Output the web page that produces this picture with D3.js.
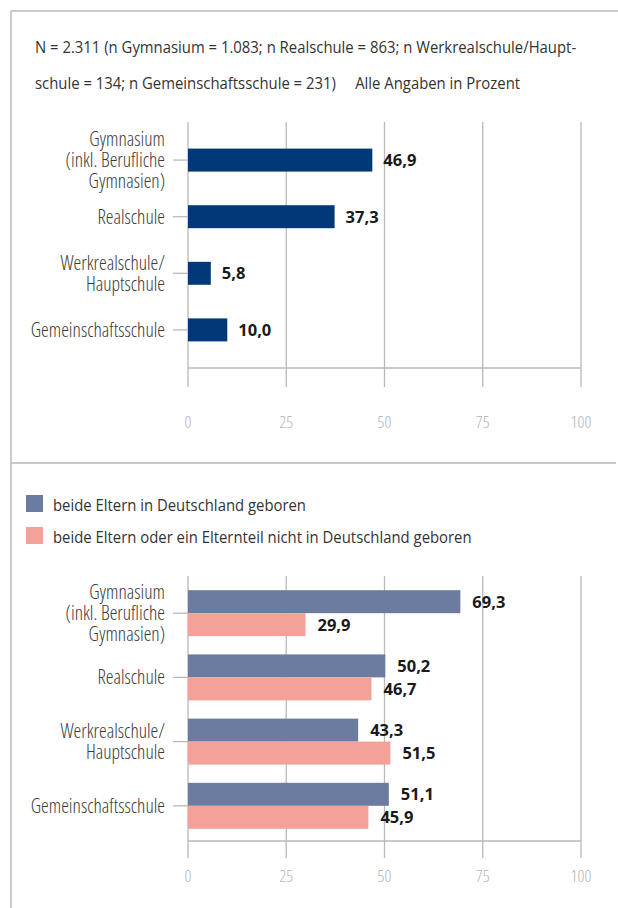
<!DOCTYPE html>
<html>
<head>
<meta charset="utf-8">
<script src="https://cdn.jsdelivr.net/npm/d3@7"></script>
<style>
  body { margin: 0; background: #fff; }
  svg text { font-family: "Open Sans", "Liberation Sans Narrow", "DejaVu Sans Condensed", sans-serif; }
  .cond { font-stretch: condensed; }
</style>
</head>
<body>
<svg id="chart" width="618" height="908"></svg>
<script>
// data
const schools = [
  ["Gymnasium", "(inkl. Berufliche", "Gymnasien)"],
  ["Realschule"],
  ["Werkrealschule/", "Hauptschule"],
  ["Gemeinschaftsschule"]
];
const schoolKeys = ["gym", "real", "werk", "gem"];
const shareAll = [46.9, 37.3, 5.8, 10.0];
const shareNative = [69.3, 50.2, 43.3, 51.1];
const shareMigrant = [29.9, 46.7, 51.5, 45.9];
const seriesNames = [
  "beide Eltern in Deutschland geboren",
  "beide Eltern oder ein Elternteil nicht in Deutschland geboren"
];
const xTicks = [0, 25, 50, 75, 100];
const noteLines = [
  "N = 2.311 (n Gymnasium = 1.083; n Realschule = 863; n Werkrealschule/Haupt-",
  "schule = 134; n Gemeinschaftsschule = 231)     Alle Angaben in Prozent"
];

const navy = "#013877", slate = "#6c7ba0", salmon = "#f4a199";
const gridColor = "#b9b9b9";

const de = d3.formatLocale({ decimal: ",", thousands: ".", grouping: [3], currency: ["", "€"] });
const fmt = de.format(".1f");

const svg = d3.select("#chart");

// frame
svg.append("line").attr("x1", 11).attr("y1", 11).attr("x2", 618).attr("y2", 11)
  .attr("stroke", gridColor).attr("stroke-width", 1.5);
svg.append("line").attr("x1", 11).attr("y1", 11).attr("x2", 11).attr("y2", 908)
  .attr("stroke", gridColor).attr("stroke-width", 1.5);
svg.append("line").attr("x1", 11).attr("y1", 463).attr("x2", 616).attr("y2", 463)
  .attr("stroke", gridColor).attr("stroke-width", 1.5);

// note text (semi-condensed look via horizontal squeeze)
svg.selectAll(".note").data(noteLines).join("text")
  .attr("class", "note")
  .attr("transform", (d, i) => `translate(35,${53 + i * 36}) scale(0.875,1)`)
  .attr("font-size", 17)
  .attr("fill", "#333")
  .style("white-space", "pre")
  .text(d => d);

const x = d3.scaleLinear().domain([0, 100]).range([188, 581]);

function drawFrame(top, bottom, yScale, tickLen, labelOff) {
  const g = svg.append("g");
  // grid
  g.selectAll(".grid").data(xTicks).join("line")
    .attr("x1", d => x(d)).attr("x2", d => x(d))
    .attr("y1", top).attr("y2", bottom + tickLen)
    .attr("stroke", gridColor).attr("stroke-width", 1.3);
  g.append("line")
    .attr("x1", x(0)).attr("x2", x(100))
    .attr("y1", bottom).attr("y2", bottom)
    .attr("stroke", gridColor).attr("stroke-width", 1.3);
  g.selectAll(".tl").data(xTicks).join("text")
    .attr("class", "cond")
    .attr("x", d => x(d))
    .attr("y", bottom + labelOff)
    .attr("text-anchor", "middle")
    .attr("font-size", 17)
    .attr("font-weight", 300)
    .attr("fill", "#b3b3b3")
    .text(d => d);
  // category ticks and labels
  schoolKeys.forEach((k, i) => {
    const cy = yScale(k) + yScale.bandwidth() / 2;
    g.append("line")
      .attr("x1", 173).attr("x2", x(0))
      .attr("y1", cy).attr("y2", cy)
      .attr("stroke", gridColor).attr("stroke-width", 1.3);
    const lines = schools[i];
    const t = g.append("text")
      .attr("class", "cond")
      .attr("text-anchor", "end")
      .attr("font-size", 19.5)
      .attr("font-weight", 350)
      .attr("fill", "#3a3a3a");
    lines.forEach((ln, j) => {
      t.append("tspan")
        .attr("x", 165)
        .attr("y", cy + 7 + (j - (lines.length - 1) / 2) * 21)
        .text(ln);
    });
  });
  return g;
}

// chart 1
const y1 = d3.scaleBand().domain(schoolKeys).range([122, 368])
  .paddingInner(0.594).paddingOuter(0.47);
const g1 = drawFrame(122, 368, y1, 19, 60);
g1.selectAll(".bar").data(shareAll).join("rect")
  .attr("x", x(0))
  .attr("y", (d, i) => y1(schoolKeys[i]))
  .attr("width", d => x(d) - x(0))
  .attr("height", y1.bandwidth())
  .attr("fill", navy);
g1.selectAll(".val").data(shareAll).join("text")
  .attr("x", d => x(d) + 11)
  .attr("y", (d, i) => y1(schoolKeys[i]) + y1.bandwidth() / 2 + 6)
  .attr("font-size", 16.5)
  .attr("font-weight", 700)
  .attr("fill", "#1a1a1a")
  .text(d => fmt(d));

// legend
const legendColors = [slate, salmon];
seriesNames.forEach((name, i) => {
  svg.append("rect")
    .attr("x", 26).attr("y", 495 + i * 32)
    .attr("width", 17).attr("height", 17)
    .attr("fill", legendColors[i]);
  svg.append("text")
    .attr("transform", `translate(53,${511 + i * 32}) scale(0.875,1)`)
    .attr("font-size", 17)
    .attr("fill", "#333")
    .text(name);
});

// chart 2
const y2 = d3.scaleBand().domain(schoolKeys).range([578, 841])
  .paddingInner(0.284).paddingOuter(0.19);
const sub = d3.scaleBand().domain([0, 1]).range([0, y2.bandwidth()]);
const g2 = drawFrame(576, 841, y2, 17, 41);
[shareNative, shareMigrant].forEach((series, s) => {
  g2.selectAll(".bar" + s).data(series).join("rect")
    .attr("x", x(0))
    .attr("y", (d, i) => y2(schoolKeys[i]) + sub(s))
    .attr("width", d => x(d) - x(0))
    .attr("height", sub.bandwidth())
    .attr("fill", legendColors[s]);
  g2.selectAll(".val" + s).data(series).join("text")
    .attr("x", d => x(d) + 12)
    .attr("y", (d, i) => y2(schoolKeys[i]) + sub(s) + sub.bandwidth() / 2 + 6)
    .attr("font-size", 16.5)
    .attr("font-weight", 700)
    .attr("fill", "#1a1a1a")
    .text(d => fmt(d));
});
</script>
</body>
</html>
